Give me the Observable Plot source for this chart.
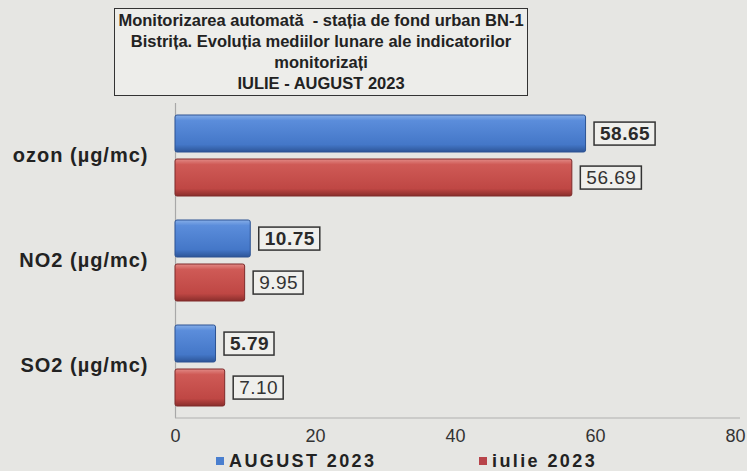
<!DOCTYPE html>
<html><head><meta charset="utf-8">
<script src="https://cdn.jsdelivr.net/npm/d3@7"></script>
<script src="https://cdn.jsdelivr.net/npm/@observablehq/plot@0.6"></script>
<style>
html,body{margin:0;padding:0;background:#e6e6e3;}
#wrap{position:relative;width:747px;height:471px;overflow:hidden;font-family:"Liberation Sans",Arial,sans-serif;}
#title{position:absolute;left:114px;top:8px;width:414px;height:88px;border:1.5px solid #333;background:#ededea;
 text-align:center;font-weight:bold;font-size:16.5px;line-height:21px;color:#222;box-sizing:border-box;padding-top:1px;}
#chart{position:absolute;left:0;top:100px;}
#legend{position:absolute;top:451px;left:0;width:747px;height:24px;font-weight:bold;font-size:18px;letter-spacing:2.4px;color:#222;}
.li{position:absolute;top:0;white-space:nowrap;}
.sw{display:inline-block;width:8px;height:8px;margin-right:5px;vertical-align:2px;}
</style></head>
<body><div id="wrap">
<div id="title">Monitorizarea automată&nbsp; - stația de fond urban BN-1<br>Bistrița. Evoluția mediilor lunare ale indicatorilor<br>monitorizați<br>IULIE - AUGUST 2023</div>
<div id="chart"></div>
<div id="legend"></div>
</div>
<script>
const indicators = ["ozon (µg/mc)", "NO2 (µg/mc)", "SO2 (µg/mc)"];
const seriesNames = ["AUGUST 2023", "iulie 2023"];
const august = [58.65, 10.75, 5.79];
const iulie = [56.69, 9.95, 7.10];
const xTicks = [0, 20, 40, 60, 80];

const data = [];
indicators.forEach((ind, i) => {
  data.push({ind, series: seriesNames[0], value: august[i]});
  data.push({ind, series: seriesNames[1], value: iulie[i]});
});
const dA = data.filter(d => d.series === seriesNames[0]);
const dI = data.filter(d => d.series === seriesNames[1]);

const chart = Plot.plot({
  width: 747,
  height: 347,
  marginLeft: 175,
  marginRight: 12,
  marginTop: 2,
  marginBottom: 29,
  style: {background: "transparent", fontFamily: "Liberation Sans, Arial, sans-serif"},
  x: {domain: [0, 80], ticks: xTicks, tickSize: 0, tickPadding: 11, label: null},
  y: {domain: seriesNames, axis: null, paddingInner: 0.16, paddingOuter: 0.27},
  fy: {domain: indicators, padding: 0, label: null, tickSize: 0, tickPadding: 27},
  marks: [
    Plot.ruleX([0], {stroke: "#a8a8a8", strokeWidth: 1.2}),
    Plot.barX(dA, {fy: "ind", y: "series", x: "value", fill: "url(#gBlue)", stroke: "#2c5393", strokeWidth: 1, rx: 2}),
    Plot.barX(dI, {fy: "ind", y: "series", x: "value", fill: "url(#gRed)", stroke: "#7e2a2a", strokeWidth: 1, rx: 2}),
    Plot.text(dA, {fy: "ind", y: "series", x: "value", text: d => d.value.toFixed(2), dx: 14, textAnchor: "start",
      fontWeight: "bold", fontSize: 19, fill: "#2a2a2a", className: "vlab"}),
    Plot.text(dI, {fy: "ind", y: "series", x: "value", text: d => d.value.toFixed(2), dx: 14, textAnchor: "start",
      fontSize: 19, fill: "#333", className: "vlab"})
  ]
});
document.getElementById("chart").appendChild(chart);

const ns = "http://www.w3.org/2000/svg";
const defs = document.createElementNS(ns, "defs");
defs.innerHTML = `
<linearGradient id="gBlue" x1="0" y1="0" x2="0" y2="1">
 <stop offset="0" stop-color="#86aee8"/><stop offset="0.15" stop-color="#5b8ddb"/>
 <stop offset="0.8" stop-color="#4477c8"/><stop offset="1" stop-color="#2d5598"/></linearGradient>
<linearGradient id="gRed" x1="0" y1="0" x2="0" y2="1">
 <stop offset="0" stop-color="#e28a86"/><stop offset="0.15" stop-color="#cf5a56"/>
 <stop offset="0.8" stop-color="#bf4744"/><stop offset="1" stop-color="#8a2e2c"/></linearGradient>`;
chart.insertBefore(defs, chart.firstChild);

chart.querySelectorAll('[aria-label="x-axis tick label"] text').forEach(t => {
  t.setAttribute("font-size", "18"); t.setAttribute("fill", "#333");
});
chart.querySelectorAll('[aria-label="fy-axis tick label"] text').forEach(t => {
  t.setAttribute("font-size", "20"); t.setAttribute("font-weight", "bold"); t.setAttribute("fill", "#222");
  t.setAttribute("letter-spacing", "1");
});
chart.querySelectorAll("g.vlab text").forEach(t => t.setAttribute("letter-spacing", "0.5"));

d3.select(chart).append("line")
  .attr("x1", 175).attr("x2", 740).attr("y1", 318).attr("y2", 318)
  .attr("stroke", "#b0b0b0").attr("stroke-width", 1.2);

chart.querySelectorAll("g.vlab text").forEach(t => {
  const b = t.getBBox();
  const r = document.createElementNS(ns, "rect");
  r.setAttribute("x", b.x - 6); r.setAttribute("y", b.y - 1);
  r.setAttribute("width", b.width + 11); r.setAttribute("height", b.height + 2);
  r.setAttribute("fill", "#efefec"); r.setAttribute("stroke", "#333"); r.setAttribute("stroke-width", 1.5);
  const tr = t.getAttribute("transform");
  if (tr) r.setAttribute("transform", tr);
  t.parentNode.insertBefore(r, t);
});

const legend = document.getElementById("legend");
const cols = ["#4a7fcf", "#b8444a"];
const lx = [216, 479];
seriesNames.forEach((s, i) => {
  const d = document.createElement("div");
  d.className = "li"; d.style.left = lx[i] + "px";
  d.innerHTML = `<span class="sw" style="background:${cols[i]}"></span>${s}`;
  legend.appendChild(d);
});
</script>
</body></html>
